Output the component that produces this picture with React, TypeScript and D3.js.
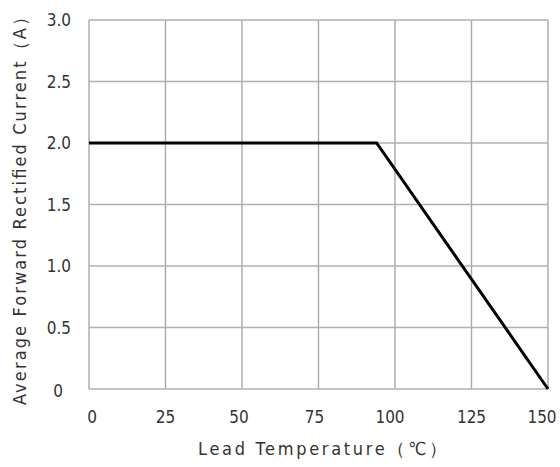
import React from "react";
import * as d3 from "d3";

const xTicks = [0, 25, 50, 75, 100, 125, 150];
const yTicks = [0, 0.5, 1.0, 1.5, 2.0, 2.5, 3.0];
const yTickLabels = ["0", "0.5", "1.0", "1.5", "2.0", "2.5", "3.0"];
const curveTemp = [0, 94, 150];
const curveCurrent = [2.0, 2.0, 0];
const xTitle = "Lead Temperature（℃）";
const yTitle = "Average Forward Rectified Current（A）";

export default function App() {
  const W = 560, H = 467;
  const left = 89, right = 548, top = 20, bottom = 389;
  const x = d3.scaleLinear().domain([0, 150]).range([left, right]);
  const y = d3.scaleLinear().domain([0, 3]).range([bottom, top]);
  const pts = curveTemp.map((t, i) => [t, curveCurrent[i]] as [number, number]);
  const line = d3.line<[number, number]>().x(d => x(d[0])).y(d => y(d[1]));
  const font = "'DejaVu Sans Condensed', 'Liberation Sans', sans-serif";
  return (
    <svg width={W} height={H} style={{ position: "absolute", left: 0, top: 0, background: "#fff" }}>
      <rect x={0} y={0} width={W} height={H} fill="#fff" />
      {xTicks.map(t => (
        <line key={"gx" + t} x1={x(t)} x2={x(t)} y1={top} y2={bottom} stroke="#a8a8a8" strokeWidth={1.4} />
      ))}
      {yTicks.map(t => (
        <line key={"gy" + t} x1={left} x2={right} y1={y(t)} y2={y(t)} stroke="#b0b0b0" strokeWidth={1.4} />
      ))}
      <path d={line(pts) || ""} fill="none" stroke="#000" strokeWidth={3} strokeLinejoin="miter" />
      {yTicks.map((t, i) => (
        <text key={"ty" + t} x={t === 0 ? 63 : 71} y={y(t) + 6 + (t === 0 ? 2 : 0)} textAnchor="end" fontSize={17} fontFamily={font} fill="#333">
          {yTickLabels[i]}
        </text>
      ))}
      {xTicks.map(t => (
        <text key={"tx" + t} x={x(t) + (t === 0 ? 3 : t === 150 ? -6 : t === 50 ? -3 : t === 75 ? -4 : t === 100 ? -5 : 0)} y={423} textAnchor="middle" fontSize={17} fontFamily={font} fill="#333">
          {t}
        </text>
      ))}
      <text x={198} y={455} textLength={249} lengthAdjust="spacing" fontSize={18} fontFamily={font} fill="#333">{xTitle}</text>
      <text transform={`translate(26, 405) rotate(-90)`} textLength={397} lengthAdjust="spacing" fontSize={18} fontFamily={font} fill="#333">{yTitle}</text>
    </svg>
  );
}
